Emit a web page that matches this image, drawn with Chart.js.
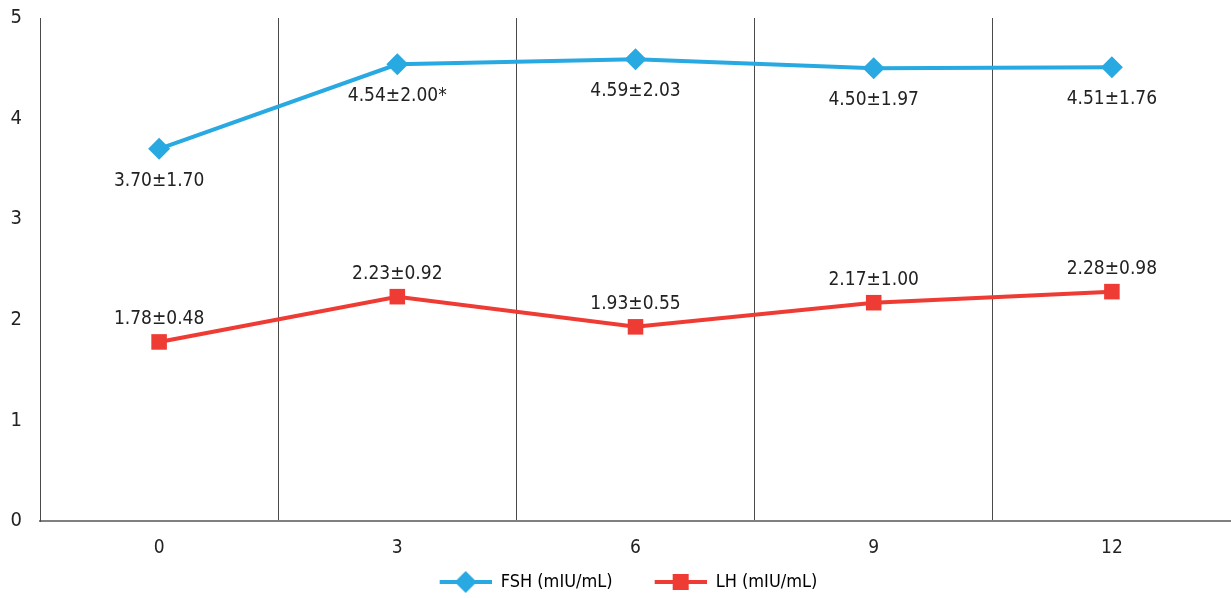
<!DOCTYPE html>
<html>
<head>
<meta charset="utf-8">
<script src="https://cdn.jsdelivr.net/npm/chart.js@4/dist/chart.umd.min.js"></script>
<style>
  html, body { margin: 0; padding: 0; background: #fff; overflow: hidden; }
  #wrap { width: 1231px; height: 598px; }
</style>
</head>
<body>
<div id="wrap"><canvas id="canvas"></canvas></div>
<script>
// months of follow-up
var months = ['0', '3', '6', '9', '12'];

// mean values
var fshValues = [3.70, 4.54, 4.59, 4.50, 4.51];
var lhValues = [1.78, 2.23, 1.93, 2.17, 2.28];

// labels written next to each point (mean±SD)
var fshLabels = ['3.70±1.70', '4.54±2.00*', '4.59±2.03', '4.50±1.97', '4.51±1.76'];
var lhLabels = ['1.78±0.48', '2.23±0.92', '1.93±0.55', '2.17±1.00', '2.28±0.98'];

var yTicks = [0, 1, 2, 3, 4, 5];

var FONT = '"Liberation Sans Narrow", "DejaVu Sans Condensed", Roboto, sans-serif';
var BLUE = '#29a9e1';
var RED = '#ee3b33';

// legend swatch: short line with the marker in the middle (blank strip on the left for spacing)
function legendIcon(color, style) {
	var c = document.createElement('canvas');
	c.width = 78; c.height = 24;
	var g = c.getContext('2d');
	g.strokeStyle = color;
	g.fillStyle = color;
	g.lineWidth = 4;
	g.beginPath(); g.moveTo(26, 12); g.lineTo(78, 12); g.stroke();
	g.beginPath();
	if (style === 'rectRot') {
		g.moveTo(52, 1); g.lineTo(63, 12); g.lineTo(52, 23); g.lineTo(41, 12);
	} else {
		g.rect(44, 4, 16, 16);
	}
	g.closePath(); g.fill();
	return c;
}

var pointLabels = {
	id: 'pointLabels',
	afterDatasetsDraw: function(chart) {
		var ctx = chart.ctx;
		ctx.save();
		ctx.font = '19px ' + FONT;
		ctx.fillStyle = '#222';
		ctx.textAlign = 'center';
		ctx.textBaseline = 'middle';
		chart.data.datasets.forEach(function(ds, i) {
			var meta = chart.getDatasetMeta(i);
			meta.data.forEach(function(pt, j) {
				var dy = ds.labelBelow ? 32 : -23;
				ctx.fillText(ds.pointText[j], pt.x, pt.y + dy);
			});
		});
		ctx.restore();
	}
};

var config = {
	type: 'line',
	data: {
		labels: months,
		datasets: [{
			label: 'FSH (mIU/mL)',
			data: fshValues,
			pointText: fshLabels,
			labelBelow: true,
			borderColor: BLUE,
			backgroundColor: BLUE,
			borderWidth: 4,
			pointStyle: 'rectRot',
			pointRadius: 11,
			pointHoverRadius: 11,
			pointBorderWidth: 0,
			fill: false,
			tension: 0
		}, {
			label: 'LH (mIU/mL)',
			data: lhValues,
			pointText: lhLabels,
			labelBelow: false,
			borderColor: RED,
			backgroundColor: RED,
			borderWidth: 4,
			pointStyle: 'rect',
			pointRadius: 11,
			pointHoverRadius: 11,
			pointBorderWidth: 0,
			fill: false,
			tension: 0
		}]
	},
	options: {
		responsive: true,
		maintainAspectRatio: false,
		animation: false,
		layout: { autoPadding: false, padding: { top: 18, right: 0, left: 0, bottom: -3 } },
		plugins: {
			tooltip: { enabled: false },
			legend: {
				position: 'bottom',
				labels: {
					usePointStyle: true,
					pointStyleWidth: 78,
					padding: 8,
					color: '#222',
					font: { family: FONT, size: 18 },
					generateLabels: function(chart) {
						return chart.data.datasets.map(function(ds, i) {
							return {
								// en space after the first entry widens the gap between items
								text: i === 0 ? ds.label + '\u2002' : ds.label,
								fillStyle: ds.borderColor,
								strokeStyle: ds.borderColor,
								lineWidth: 0,
								pointStyle: legendIcon(ds.borderColor, ds.pointStyle),
								datasetIndex: i,
								hidden: false
							};
						});
					}
				}
			}
		},
		scales: {
			x: {
				offset: true,
				afterFit: function(scale) {
					scale.height = 44;
					scale.paddingLeft = 0;
					scale.paddingRight = 0;
				},
				grid: {
					offset: true,
					drawTicks: false,
					lineWidth: 1,
					// the closing line on the right edge has no tick context: leave it out
					color: function(c) { return c.type === 'tick' ? '#4a4a4a' : 'rgba(0,0,0,0)'; }
				},
				border: { display: true, color: '#808080', width: 2 },
				ticks: {
					padding: 16,
					color: '#222',
					font: { family: FONT, size: 19 }
				}
			},
			y: {
				min: 0,
				max: 5,
				afterBuildTicks: function(scale) {
					scale.ticks = yTicks.map(function(v) { return {value: v}; });
				},
				afterFit: function(scale) {
					scale.width = 40;
					scale.paddingTop = 0;
					scale.paddingBottom = 0;
				},
				grid: { display: false, drawTicks: false },
				border: { display: true, color: '#4a4a4a', width: 1 },
				ticks: {
					padding: 18,
					color: '#222',
					font: { family: FONT, size: 20 }
				}
			}
		}
	},
	plugins: [pointLabels]
};

window.onload = function() {
	var ctx = document.getElementById('canvas').getContext('2d');
	window.myLine = new Chart(ctx, config);
};
</script>
</body>
</html>
